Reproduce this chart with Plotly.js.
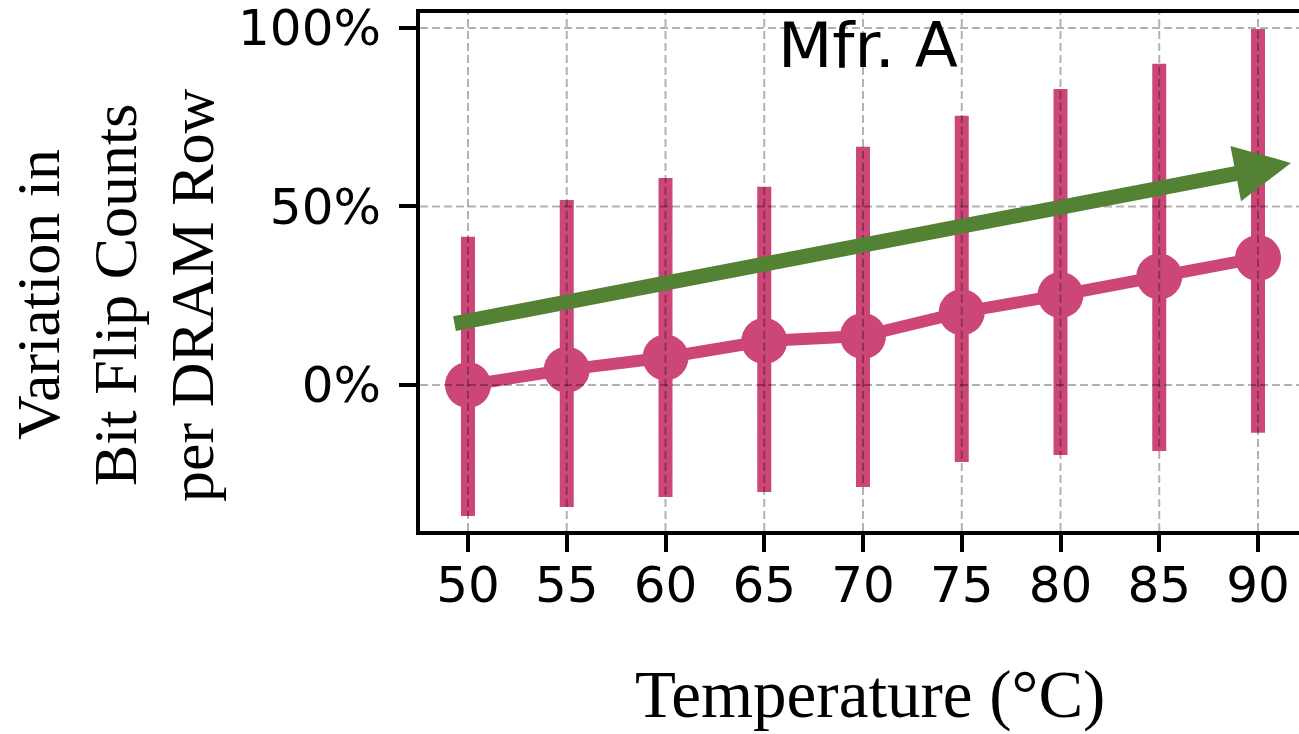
<!DOCTYPE html>
<html>
<head>
<meta charset="utf-8">
<script src="https://cdn.plot.ly/plotly-3.0.1.min.js"></script>
<style>
  html, body { margin: 0; padding: 0; overflow: hidden; background: #fff; }
  #chart { width: 1310px; height: 734px; }
</style>
</head>
<body>
<div id="chart"></div>
<script>
// ---- data ----
const temperatures = [50, 55, 60, 65, 70, 75, 80, 85, 90];
const meanVariation = [0, 4.3, 7.7, 12.3, 13.7, 20.4, 25.2, 30.4, 35.6];
const upperVariation = [41.5, 51.8, 58.0, 55.5, 66.7, 75.4, 82.9, 90.0, 99.7];
const lowerVariation = [-36.7, -34.2, -31.4, -30.0, -28.6, -21.6, -19.6, -18.5, -13.4];
const yTickValues = [0, 50, 100];
const trendStart = [49.24, 17.1];
const trendEnd = [91.67, 62.2];
const panelTitle = "Mfr. A";
const xTitle = "Temperature (°C)";
const yTitleLines = ["Variation in", "Bit Flip Counts", "per DRAM Row"];

const pink = "#cc4778";
const errPlus = upperVariation.map((u, i) => u - meanVariation[i]);
const errMinus = lowerVariation.map((l, i) => meanVariation[i] - l);

const trace = {
  x: temperatures,
  y: meanVariation,
  type: "scatter",
  mode: "lines+markers",
  line: { color: pink, width: 12 },
  marker: { color: pink, size: 46 },
  error_y: {
    type: "data", symmetric: false,
    array: errPlus, arrayminus: errMinus,
    color: pink, thickness: 14, width: 0
  },
  hoverinfo: "skip",
  showlegend: false
};

const gridStyle = { color: "rgba(0,0,0,0.3)", width: 2, dash: "8px,4px" };
const shapes = [];
temperatures.forEach(t => shapes.push({
  type: "line", xref: "x", yref: "paper", x0: t, x1: t, y0: 0, y1: 1,
  layer: "above", line: gridStyle
}));
yTickValues.forEach(v => shapes.push({
  type: "line", xref: "paper", yref: "y", x0: 0, x1: 1, y0: v, y1: v,
  layer: "above", line: gridStyle
}));

const tickFont = { family: "DejaVu Sans", size: 50, color: "#000" };

// plot area: left 420px, width 886px; y-title line centres in page pixels
const plotLeft = 420, plotWidth = 886;
const yTitleCentersPx = [38, 115, 192];

const annotations = [
  {
    text: panelTitle, xref: "paper", yref: "paper", x: 0.5056, y: 0.938,
    xanchor: "center", yanchor: "middle", showarrow: false,
    font: { family: "DejaVu Sans", size: 63, color: "#000" }
  },
  {
    text: xTitle, xref: "paper", yref: "paper", x: 0.508, y: -0.3147,
    xanchor: "center", yanchor: "middle", showarrow: false,
    font: { family: "Liberation Serif", size: 67, color: "#000" }
  },
  {
    xref: "x", yref: "y", axref: "x", ayref: "y",
    x: trendEnd[0], y: trendEnd[1], ax: trendStart[0], ay: trendStart[1],
    text: "", showarrow: true, arrowhead: 2, arrowsize: 0.75,
    arrowwidth: 15, arrowcolor: "#548235", standoff: 0
  }
];
yTitleLines.forEach((line, i) => annotations.push({
  text: line, xref: "paper", yref: "paper",
  x: (yTitleCentersPx[i] - plotLeft) / plotWidth, y: 0.4556,
  xanchor: "center", yanchor: "middle", showarrow: false, textangle: -90,
  font: { family: "Liberation Serif", size: 62, color: "#000" }
}));

const layout = {
  width: 1310, height: 734,
  margin: { l: plotLeft, r: 4, t: 13, b: 203 },
  paper_bgcolor: "#fff", plot_bgcolor: "#fff",
  xaxis: {
    range: [47.57, 92.43],
    tickvals: temperatures,
    ticktext: temperatures.map(String),
    showgrid: false, zeroline: false,
    showline: true, mirror: true, linecolor: "#000", linewidth: 4,
    ticks: "outside", ticklen: 17, tickwidth: 4, tickcolor: "#000",
    ticklabelstandoff: -10,
    ticklabeloverflow: "allow",
    tickfont: tickFont
  },
  yaxis: {
    range: [-40.9, 104.2],
    tickvals: yTickValues,
    ticktext: yTickValues.map(v => v + "%"),
    showgrid: false, zeroline: false,
    showline: true, mirror: true, linecolor: "#000", linewidth: 4,
    ticks: "outside", ticklen: 17, tickwidth: 4, tickcolor: "#000",
    ticklabelstandoff: 8,
    ticklabeloverflow: "allow",
    tickfont: tickFont
  },
  shapes: shapes,
  annotations: annotations
};

Plotly.newPlot("chart", [trace], layout, { displayModeBar: false, staticPlot: true });
</script>
</body>
</html>
